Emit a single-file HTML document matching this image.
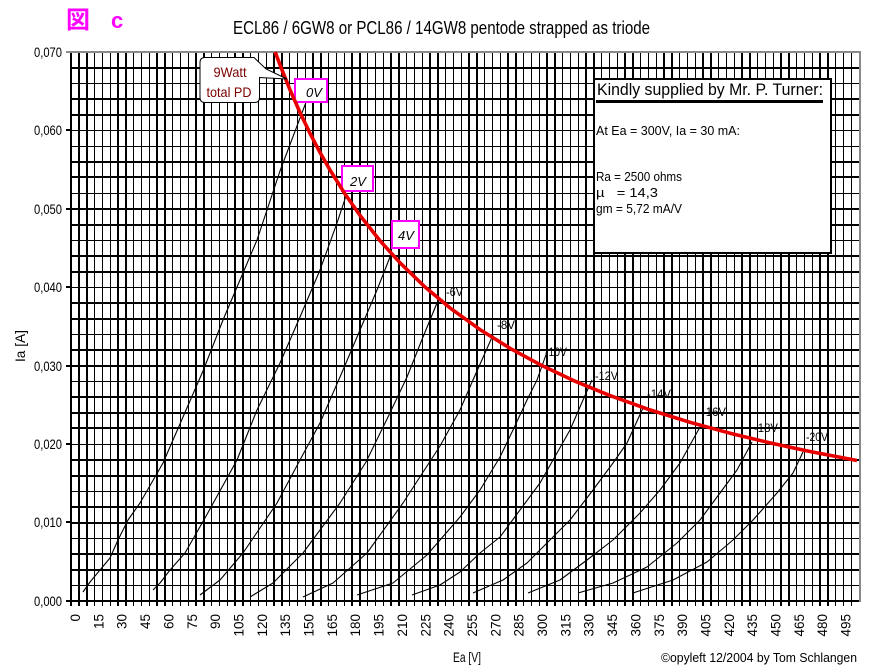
<!DOCTYPE html>
<html>
<head>
<meta charset="utf-8">
<style>
html,body{margin:0;padding:0;background:#fff;}
svg{display:block;}
text{font-family:"Liberation Sans","Noto Sans CJK JP",sans-serif;}
</style>
</head>
<body>
<svg width="880" height="672" viewBox="0 0 880 672" xmlns="http://www.w3.org/2000/svg">
<defs>
<pattern id="vg" x="71" y="0" width="39" height="672" patternUnits="userSpaceOnUse">
<rect x="0" y="0" width="1" height="672" fill="#000"/>
<rect x="7" y="0" width="2" height="672" fill="#000"/>
<rect x="15" y="0" width="2" height="672" fill="#000"/>
<rect x="23" y="0" width="1" height="672" fill="#000"/>
<rect x="31" y="0" width="1" height="672" fill="#000"/>
</pattern>
</defs>
<rect width="880" height="672" fill="#fff"/>

<!-- header -->
<text x="66" y="28" font-size="24" font-weight="bold" fill="#ff00ff" style="font-family:'Noto Sans CJK JP','WenQuanYi Zen Hei',sans-serif">図</text>
<text x="111" y="28" font-size="22" font-weight="bold" fill="#ff00ff">c</text>
<text x="233" y="34" font-size="18.5" fill="#000" textLength="417" lengthAdjust="spacingAndGlyphs">ECL86 / 6GW8 or PCL86 / 14GW8 pentode strapped as triode</text>

<!-- vertical grid -->
<rect x="71" y="52" width="786" height="554" fill="url(#vg)"/>
<rect x="70" y="52" width="2" height="554" fill="#000"/>

<!-- horizontal grid -->
<g fill="#000">
<rect x="71" y="67" width="789" height="2"/>
<rect x="71" y="83" width="789" height="1"/>
<rect x="71" y="98" width="789" height="2"/>
<rect x="71" y="114" width="789" height="2"/>
<rect x="71" y="130" width="789" height="1"/>
<rect x="71" y="146" width="789" height="1"/>
<rect x="71" y="161" width="789" height="2"/>
<rect x="71" y="176" width="789" height="2"/>
<rect x="71" y="193" width="789" height="1"/>
<rect x="71" y="208" width="789" height="2"/>
<rect x="71" y="224" width="789" height="2"/>
<rect x="71" y="240" width="789" height="1"/>
<rect x="71" y="255" width="789" height="2"/>
<rect x="71" y="271" width="789" height="2"/>
<rect x="71" y="287" width="789" height="1"/>
<rect x="71" y="302" width="789" height="2"/>
<rect x="71" y="318" width="789" height="2"/>
<rect x="71" y="334" width="789" height="1"/>
<rect x="71" y="349" width="789" height="2"/>
<rect x="71" y="365" width="789" height="2"/>
<rect x="71" y="381" width="789" height="1"/>
<rect x="71" y="396" width="789" height="2"/>
<rect x="71" y="412" width="789" height="2"/>
<rect x="71" y="427" width="789" height="2"/>
<rect x="71" y="444" width="789" height="1"/>
<rect x="71" y="459" width="789" height="2"/>
<rect x="71" y="475" width="789" height="2"/>
<rect x="71" y="491" width="789" height="1"/>
<rect x="71" y="506" width="789" height="2"/>
<rect x="71" y="522" width="789" height="2"/>
<rect x="71" y="538" width="789" height="1"/>
<rect x="71" y="553" width="789" height="2"/>
<rect x="71" y="569" width="789" height="2"/>
<rect x="71" y="585" width="789" height="1"/>
<rect x="71" y="600" width="789" height="2"/>
<!-- y ticks -->
<rect x="66" y="129" width="5" height="2"/>
<rect x="66" y="208" width="5" height="2"/>
<rect x="66" y="286" width="5" height="2"/>
<rect x="66" y="365" width="5" height="2"/>
<rect x="66" y="443" width="5" height="2"/>
<rect x="66" y="521" width="5" height="2"/>
<rect x="66" y="600" width="5" height="2"/>
</g>
<!-- gray frame top/right -->
<rect x="66" y="51" width="795" height="2" fill="#8a8a8a"/>
<rect x="859" y="51" width="2" height="551" fill="#8a8a8a"/>

<!-- triode curves -->
<g fill="none" stroke="#000" stroke-width="1.1" stroke-linejoin="round">
<polyline points="83,592 90,582 110,558 118,540 128,520 140,503 163,463 183,417 203,371 223,320 240,280 257,240 280,171 297,126 308,97"/>
<polyline points="153,590 160,583 170,570 185,553 205,518 237,460 257,410 280,363 300,317 320,270 337,223 347,193"/>
<polyline points="200,595 220,580 243,553 277,503 300,460 320,423 343,370 360,330 377,290 390,257"/>
<polyline points="250,597 273,583 303,553 340,503 366,462 388,417 407,377 423,337 437,303"/>
<polyline points="303,597 333,583 367,553 403,503 440,446 460,410 473,380 493,335"/>
<polyline points="357,595 393,583 427,555 460,517 480,490 500,457 513,430 527,400 537,380 547,352"/>
<polyline points="412,595 440,585 460,572 480,553 500,537 520,510 540,483 557,453 570,430 583,400 592,380"/>
<polyline points="473,593 503,580 527,563 547,543 570,520 593,490 613,463 627,443 643,408"/>
<polyline points="528,593 560,580 587,560 613,540 640,513 660,490 680,463 700,427"/>
<polyline points="578,593 613,583 647,567 677,543 700,520 720,493 737,470 752,442"/>
<polyline points="633,593 673,580 707,562 733,540 753,520 777,493 793,473 803,452"/>
</g>

<!-- magenta label boxes -->
<g fill="#fff" stroke="#ff00ff" stroke-width="2">
<rect x="295" y="79" width="32" height="23"/>
<rect x="342" y="166" width="31" height="25"/>
<rect x="392" y="221" width="27" height="27"/>
</g>
<g font-size="13" fill="#000" text-anchor="middle">
<text x="314" y="97" font-style="italic">0V</text>
<text x="358" y="186" font-style="italic">2V</text>
<text x="406" y="240" font-style="italic">4V</text>
</g>

<!-- 9W total PD curve -->
<polyline fill="none" stroke="#e80000" stroke-width="3.6" stroke-linejoin="round" points="275.2,52 280,64.9 290,89.8 300,112.5 310,133.3 320,152.4 330,170 345,193.9 360,215.4 380,240.7 400,262.8 425,287 450,307.9 480,329.6 510,348.3 540,364.6 575,381.2 610,395.6 650,409.9 690,422.3 730,433.2 770,442.9 810,451.5 857,460.5"/>

<!-- callout -->
<path d="M205,57.5 L254,57.5 L266,69 L287,79 L259.5,77.5 L259.5,97.5 Q259.5,102.5 254.5,102.5 L205,102.5 Q200,102.5 200,97.5 L200,62.5 Q200,57.5 205,57.5 Z" fill="#fff" stroke="#000" stroke-width="1"/>
<text x="230" y="77" font-size="14" fill="#7a0000" text-anchor="middle" textLength="33" lengthAdjust="spacingAndGlyphs">9Watt</text>
<text x="229" y="97" font-size="14" fill="#7a0000" text-anchor="middle" textLength="45" lengthAdjust="spacingAndGlyphs">total PD</text>

<!-- curve labels -->
<g font-size="12" fill="#000">
<text x="446" y="296" textLength="17" lengthAdjust="spacingAndGlyphs">-6V</text>
<text x="497" y="329" textLength="18" lengthAdjust="spacingAndGlyphs">-8V</text>
<text x="545" y="356" textLength="22" lengthAdjust="spacingAndGlyphs">-10V</text>
<text x="595" y="380" textLength="23" lengthAdjust="spacingAndGlyphs">-12V</text>
<text x="647" y="398" textLength="24" lengthAdjust="spacingAndGlyphs">-14V</text>
<text x="702" y="416" textLength="24" lengthAdjust="spacingAndGlyphs">-16V</text>
<text x="754" y="432" textLength="24" lengthAdjust="spacingAndGlyphs">-18V</text>
<text x="806" y="441" textLength="22" lengthAdjust="spacingAndGlyphs">-20V</text>
</g>

<!-- info box -->
<rect x="594" y="79" width="237" height="174" fill="#fff" stroke="#000" stroke-width="2"/>
<text x="597" y="95" font-size="17" fill="#000" textLength="226" lengthAdjust="spacingAndGlyphs">Kindly supplied by Mr. P. Turner:</text>
<rect x="596" y="100" width="227" height="3" fill="#000"/>
<g font-size="12.5" fill="#000">
<text x="596" y="135" textLength="144" lengthAdjust="spacingAndGlyphs">At Ea = 300V, Ia = 30 mA:</text>
<text x="596" y="181" textLength="86" lengthAdjust="spacingAndGlyphs">Ra = 2500 ohms</text>
<text x="596" y="197" textLength="62" lengthAdjust="spacingAndGlyphs">µ&#160;&#160;&#160;= 14,3</text>
<text x="596" y="213" textLength="86" lengthAdjust="spacingAndGlyphs">gm = 5,72 mA/V</text>
</g>

<!-- y axis labels -->
<g font-size="13.5" fill="#000" text-anchor="end">
<text x="62" y="57" textLength="28" lengthAdjust="spacingAndGlyphs">0,070</text>
<text x="62" y="135" textLength="28" lengthAdjust="spacingAndGlyphs">0,060</text>
<text x="62" y="214" textLength="28" lengthAdjust="spacingAndGlyphs">0,050</text>
<text x="62" y="292" textLength="28" lengthAdjust="spacingAndGlyphs">0,040</text>
<text x="62" y="371" textLength="28" lengthAdjust="spacingAndGlyphs">0,030</text>
<text x="62" y="449" textLength="28" lengthAdjust="spacingAndGlyphs">0,020</text>
<text x="62" y="527" textLength="28" lengthAdjust="spacingAndGlyphs">0,010</text>
<text x="62" y="606" textLength="28" lengthAdjust="spacingAndGlyphs">0,000</text>
</g>
<text transform="translate(25,346) rotate(-90)" font-size="14" fill="#000" text-anchor="middle" textLength="32" lengthAdjust="spacingAndGlyphs">Ia [A]</text>

<!-- x axis labels -->
<g font-size="13.5" fill="#000" text-anchor="end">
<text transform="translate(80,614) rotate(-90)">0</text>
<text transform="translate(103.35,614) rotate(-90)">15</text>
<text transform="translate(126.7,614) rotate(-90)">30</text>
<text transform="translate(150.05,614) rotate(-90)">45</text>
<text transform="translate(173.4,614) rotate(-90)">60</text>
<text transform="translate(196.75,614) rotate(-90)">75</text>
<text transform="translate(220.1,614) rotate(-90)">90</text>
<text transform="translate(243.45,614) rotate(-90)">105</text>
<text transform="translate(266.8,614) rotate(-90)">120</text>
<text transform="translate(290.15,614) rotate(-90)">135</text>
<text transform="translate(313.5,614) rotate(-90)">150</text>
<text transform="translate(336.85,614) rotate(-90)">165</text>
<text transform="translate(360.2,614) rotate(-90)">180</text>
<text transform="translate(383.55,614) rotate(-90)">195</text>
<text transform="translate(406.9,614) rotate(-90)">210</text>
<text transform="translate(430.25,614) rotate(-90)">225</text>
<text transform="translate(453.6,614) rotate(-90)">240</text>
<text transform="translate(476.95,614) rotate(-90)">255</text>
<text transform="translate(500.3,614) rotate(-90)">270</text>
<text transform="translate(523.65,614) rotate(-90)">285</text>
<text transform="translate(547,614) rotate(-90)">300</text>
<text transform="translate(570.35,614) rotate(-90)">315</text>
<text transform="translate(593.7,614) rotate(-90)">330</text>
<text transform="translate(617.05,614) rotate(-90)">345</text>
<text transform="translate(640.4,614) rotate(-90)">360</text>
<text transform="translate(663.75,614) rotate(-90)">375</text>
<text transform="translate(687.1,614) rotate(-90)">390</text>
<text transform="translate(710.45,614) rotate(-90)">405</text>
<text transform="translate(733.8,614) rotate(-90)">420</text>
<text transform="translate(757.15,614) rotate(-90)">435</text>
<text transform="translate(780.5,614) rotate(-90)">450</text>
<text transform="translate(803.85,614) rotate(-90)">465</text>
<text transform="translate(827.2,614) rotate(-90)">480</text>
<text transform="translate(850.55,614) rotate(-90)">495</text>
</g>
<text x="467" y="662" font-size="14" fill="#000" text-anchor="middle" textLength="28" lengthAdjust="spacingAndGlyphs">Ea [V]</text>
<text x="661" y="662" font-size="13" fill="#000" textLength="196" lengthAdjust="spacingAndGlyphs">©opyleft 12/2004 by Tom Schlangen</text>
</svg>
</body>
</html>
